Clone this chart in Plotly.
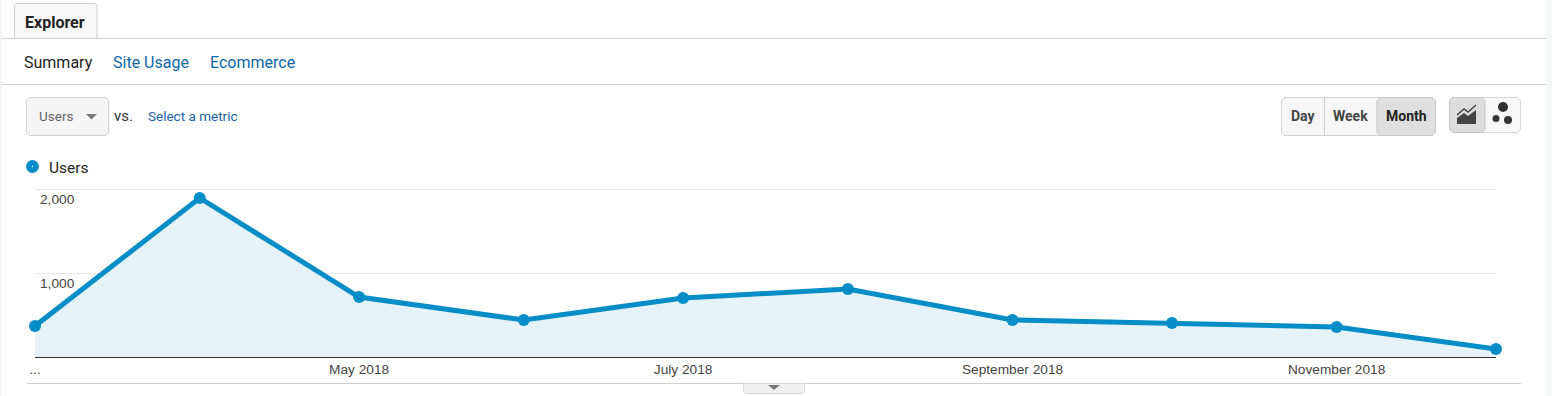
import plotly.graph_objects as go

months = ["2018-03-01", "2018-04-01", "2018-05-01", "2018-06-01", "2018-07-01",
          "2018-08-01", "2018-09-01", "2018-10-01", "2018-11-01", "2018-12-01"]
users = [369, 1893, 714, 440, 702, 810, 440, 405, 357, 95]
x_tick_vals = ["2018-03-01", "2018-05-01", "2018-07-01", "2018-09-01", "2018-11-01"]
x_tick_text = ["...", "May 2018", "July 2018", "September 2018", "November 2018"]
y_tick_vals = [1000, 2000]
y_tick_text = ["1,000", "2,000"]
y_top = 2100

W, H = 1552, 396
PX = lambda v: v / W
PY = lambda v: 1 - v / H
BLUE = "#058dc7"
LINK = "#0b67a8"

fig = go.Figure()
fig.add_trace(go.Scatter(
    x=months, y=users, mode="lines+markers", name="Users",
    line=dict(color=BLUE, width=5),
    marker=dict(color=BLUE, size=12),
    fill="tozeroy", fillcolor="#e5f2f8",
    cliponaxis=False, showlegend=False,
))

shapes = []
ann = []


def rect(x0, y0, x1, y1, fill="rgba(0,0,0,0)", line="rgba(0,0,0,0)", lw=1, layer="above"):
    shapes.append(dict(type="rect", xref="paper", yref="paper", x0=PX(x0), x1=PX(x1),
                       y0=PY(y1), y1=PY(y0), fillcolor=fill,
                       line=dict(color=line, width=lw), layer=layer))


def hline(x0, x1, y, color="#cfcfcf", lw=1):
    shapes.append(dict(type="line", xref="paper", yref="paper", x0=PX(x0), x1=PX(x1),
                       y0=PY(y), y1=PY(y), line=dict(color=color, width=lw), layer="above"))


def vline(x, y0, y1, color="#cfcfcf", lw=1):
    shapes.append(dict(type="line", xref="paper", yref="paper", x0=PX(x), x1=PX(x),
                       y0=PY(y0), y1=PY(y1), line=dict(color=color, width=lw), layer="above"))


def poly(points, fill, line="rgba(0,0,0,0)", lw=0, close=True):
    d = "M " + " L ".join(f"{PX(a):.5f},{PY(b):.5f}" for a, b in points) + (" Z" if close else "")
    shapes.append(dict(type="path", xref="paper", yref="paper", path=d, fillcolor=fill,
                       line=dict(color=line, width=lw), layer="above"))


def rrect(x0, y0, x1, y1, fill, line, r=3, lw=1):
    k = [(x0 + r, y0), (x1 - r, y0), (x1, y0 + r), (x1, y1 - r), (x1 - r, y1), (x0 + r, y1),
         (x0, y1 - r), (x0, y0 + r)]
    poly(k, fill, line, lw)


def circle(cx, cy, r, fill):
    shapes.append(dict(type="circle", xref="paper", yref="paper", x0=PX(cx - r), x1=PX(cx + r),
                       y0=PY(cy + r), y1=PY(cy - r), fillcolor=fill,
                       line=dict(color="rgba(0,0,0,0)", width=0), layer="above"))


def text(x, y, s, size=13, color="#333333", family="Roboto", anchor="left", bold=False):
    ann.append(dict(xref="paper", yref="paper", x=PX(x), y=PY(y), text=f"<b>{s}</b>" if bold else s,
                    showarrow=False, xanchor=anchor, yanchor="middle", xshift=-1 if anchor == "left" else 0,
                    font=dict(size=size, color=color, family=family), align=anchor))


# page frame
rect(0, 0, 1.5, H, fill="#f3f3f3", layer="below")
rect(1546, 0, W, H, fill="#f5f6f7", layer="below")

# tab and sub-navigation
hline(1.5, 1546, 38.5)
hline(1.5, 1546, 84.5)
poly([(14.5, 38.5), (14.5, 5), (16, 3.5), (95.5, 3.5), (97, 5), (97, 38.5)], "#f8f8f8", "#cfcfcf", 1)
text(24, 22, "Explorer", size=16, color="#222222", bold=True)
text(23, 62, "Summary", size=16, color="#222222")
text(112, 62, "Site Usage", size=16, color=LINK)
text(209, 62, "Ecommerce", size=16, color=LINK)

# metric selector
rrect(26.5, 97.5, 108.5, 135.5, "#f5f5f5", "#d0d0d0")
text(38, 116, "Users", size=13.5, color="#666666")
poly([(86, 114), (97, 114), (91.5, 119.5)], "#777777")
text(113, 116, "vs.", size=15, color="#333333")
text(147, 116, "Select a metric", size=13.5, color="#1a62a8")

# period buttons
rrect(1281.5, 97.5, 1435.5, 135.5, "#f6f6f6", "#d0d0d0")
rrect(1377, 97.5, 1435.5, 135.5, "#dfdfdf", "#c6c6c6")
vline(1324.5, 98, 135)
text(1303, 116, "Day", size=14, color="#444444", anchor="center", bold=True)
text(1350, 116, "Week", size=14, color="#444444", anchor="center", bold=True)
text(1406, 116, "Month", size=14, color="#222222", anchor="center", bold=True)

# chart type buttons
rrect(1449.5, 97.5, 1520.5, 132.5, "#f8f8f8", "#d6d6d6")
rrect(1449.5, 97.5, 1485, 132.5, "#dcdcdc", "#c6c6c6")
poly([(1457, 124), (1457, 118), (1464, 113), (1468, 116), (1476, 110), (1476, 124)], "#444444")
poly([(1457, 115), (1464, 109), (1468, 112), (1476, 105)], "rgba(0,0,0,0)", "#444444", 1.5, close=False)
circle(1503, 107, 5, "#333333")
circle(1496, 118.5, 3.5, "#333333")
circle(1508, 120, 4, "#333333")

# legend
circle(32.5, 166.5, 6.5, BLUE)
circle(32.5, 166.5, 0.7, "#ffffff")
text(48, 167.5, "Users", size=15.5, color="#222222")

# bottom rule and handle
hline(27, 1521, 383.5)
poly([(743.5, 383.5), (743.5, 391), (746, 393.5), (802, 393.5), (804.5, 391), (804.5, 383.5)],
     "#f0f0f0", "#d6d6d6", 1)
poly([(768, 385), (780, 385), (774, 390)], "#777777")

# y tick labels sit inside the plot, just below their gridlines
for v, t in zip(y_tick_vals, y_tick_text):
    ann.append(dict(xref="paper", yref="y", x=PX(38), y=v, yshift=-10, text=t, showarrow=False,
                    xanchor="left", yanchor="middle",
                    font=dict(size=13.7, color="#444444", family="Liberation Sans")))

y_dom_top = 357 - 168 * y_top / 2000

fig.update_layout(
    width=W, height=H, margin=dict(l=0, r=0, t=0, b=0, autoexpand=False),
    paper_bgcolor="#ffffff", plot_bgcolor="#ffffff",
    shapes=shapes, annotations=ann, hovermode=False,
    xaxis=dict(domain=[PX(35), PX(1496)], type="date", range=[months[0], months[-1]],
               tickmode="array", tickvals=x_tick_vals, ticktext=x_tick_text, automargin=False,
               showgrid=False, showline=True, linecolor="#333333", linewidth=1,
               ticks="", ticklabelstandoff=0, zeroline=False,
               tickfont=dict(size=13.7, color="#444444", family="Liberation Sans")),
    yaxis=dict(domain=[PY(357), PY(y_dom_top)], range=[0, y_top], tickmode="array", automargin=False,
               tickvals=y_tick_vals, showticklabels=False, showgrid=True,
               gridcolor="#e8e8e8", gridwidth=1, zeroline=False, showline=False),
)

fig.write_html("out.html", config={"displayModeBar": False},
               post_script="document.body.style.margin='0';document.body.style.overflow='hidden';")
